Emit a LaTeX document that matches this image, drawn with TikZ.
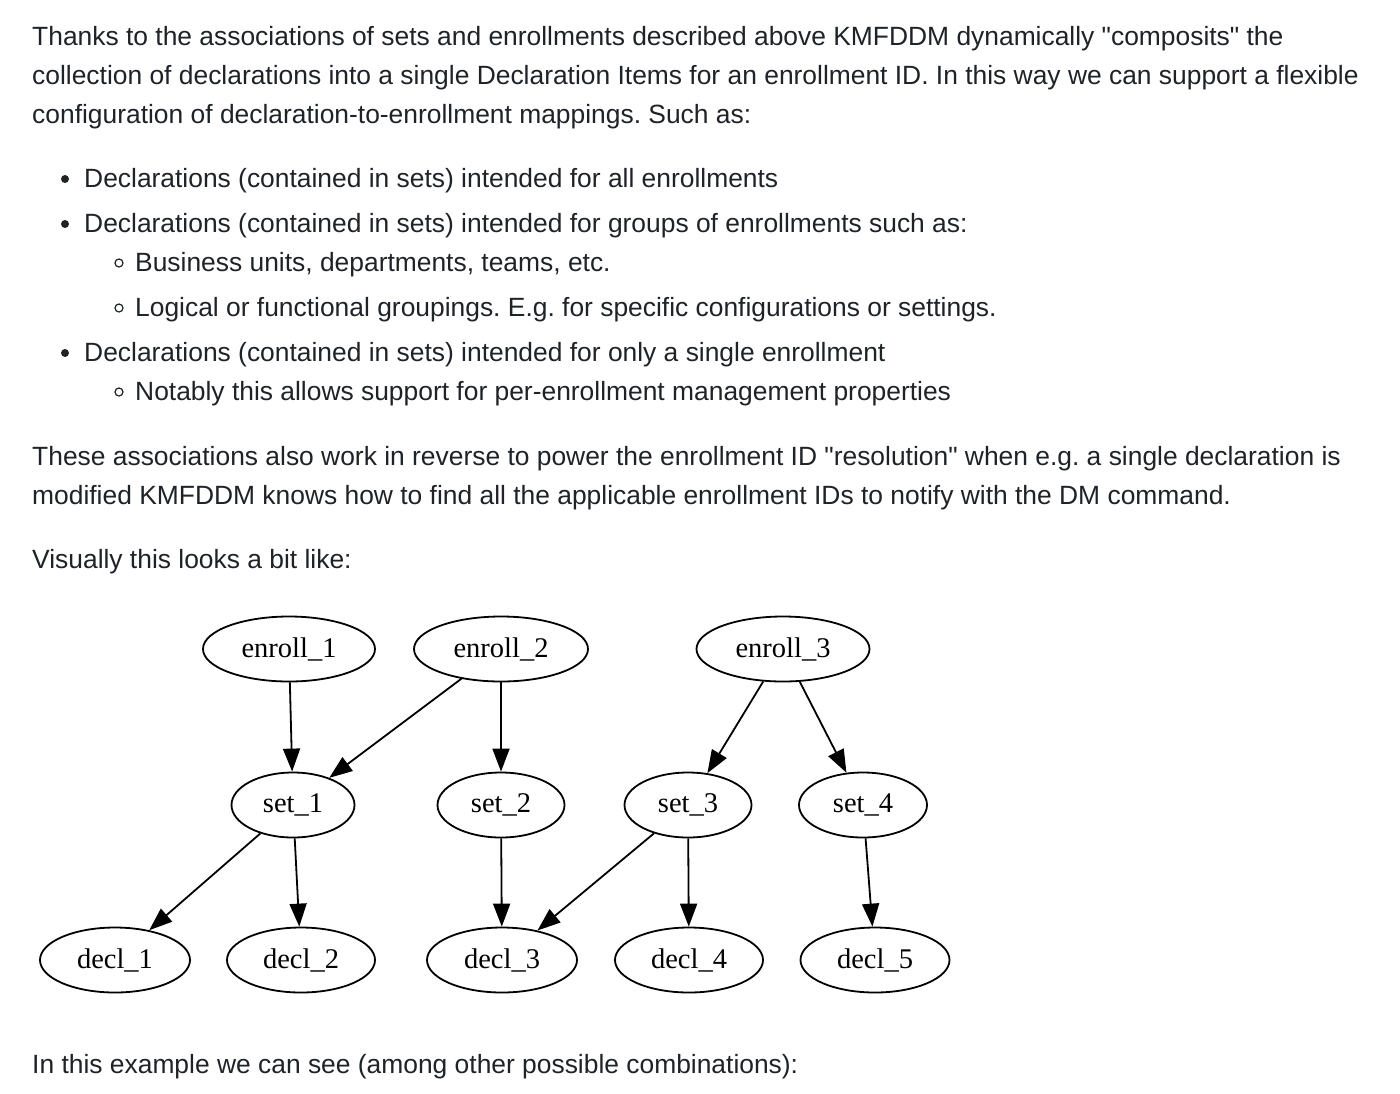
\documentclass[tikz,border=0pt]{standalone}
\usepackage{fontspec}
\setmainfont{Liberation Sans}[Ligatures=TeXOff]
\newfontfamily\gvfont{Liberation Serif}
\usetikzlibrary{shapes.geometric,arrows.meta}
\definecolor{txt}{HTML}{1F2328}
\frenchspacing
\begin{document}
\begin{tikzpicture}[x=1pt,y=-1pt,
 para/.style={anchor=base west, inner sep=0pt, text=txt, font=\fontsize{26.4}{30}\selectfont\frenchspacing},
 gv/.style={ellipse, draw=black, line width=1.8pt, inner sep=0pt, minimum height=65pt, font=\gvfont\fontsize{28.5}{30}\selectfont},
 gvedge/.style={line width=1.8pt, -{Triangle[length=23pt,width=17pt]}},
 dot/.style={circle, fill=txt, inner sep=0pt, minimum size=8pt},
 ring/.style={circle, draw=txt, line width=1.2pt, inner sep=0pt, minimum size=8pt}]
\fill[white] (0,0) rectangle (1400,1093);
\useasboundingbox (0,0) rectangle (1400,1093);

% paragraph text
\node[para] (t1) at (32,45) {Thanks to the associations of sets and enrollments described above KMFDDM dynamically "composits" the};
\node[para] (t2) at (32,84) {collection of declarations into a single Declaration Items for an enrollment ID. In this way we can support a flexible};
\node[para] (t3) at (32,123) {configuration of declaration-to-enrollment mappings. Such as:};

\node[dot] (b1) at (65,179) {};
\node[para] (l1) at (84,187) {Declarations (contained in sets) intended for all enrollments};
\node[dot] (b2) at (65,224) {};
\node[para] (l2) at (84,232) {Declarations (contained in sets) intended for groups of enrollments such as:};
\node[ring] (r1) at (119,263) {};
\node[para] (l3) at (135,271) {Business units, departments, teams, etc.};
\node[ring] (r2) at (119,308) {};
\node[para] (l4) at (135,316) {Logical or functional groupings. E.g. for specific configurations or settings.};
\node[dot] (b3) at (65,353) {};
\node[para] (l5) at (84,361) {Declarations (contained in sets) intended for only a single enrollment};
\node[ring] (r3) at (119,392) {};
\node[para] (l6) at (135,400) {Notably this allows support for per-enrollment management properties};

\node[para] (p1) at (32,465) {These associations also work in reverse to power the enrollment ID "resolution" when e.g. a single declaration is};
\node[para] (p2) at (32,504) {modified KMFDDM knows how to find all the applicable enrollment IDs to notify with the DM command.};
\node[para] (p3) at (32,568) {Visually this looks a bit like:};
\node[para] (p4) at (32,1073) {In this example we can see (among other possible combinations):};

% graph nodes
\node[gv, minimum width=172pt] (e1) at (289,649) {enroll\_1};
\node[gv, minimum width=174pt] (e2) at (501,649) {enroll\_2};
\node[gv, minimum width=173pt] (e3) at (783,649) {enroll\_3};
\node[gv, minimum width=123pt] (s1) at (293,805) {set\_1};
\node[gv, minimum width=127pt] (s2) at (501,805) {set\_2};
\node[gv, minimum width=127pt] (s3) at (688,805) {set\_3};
\node[gv, minimum width=128pt] (s4) at (863,805) {set\_4};
\node[gv, minimum width=150pt] (d1) at (115,960) {decl\_1};
\node[gv, minimum width=148pt] (d2) at (301,960) {decl\_2};
\node[gv, minimum width=150pt] (d3) at (502,960) {decl\_3};
\node[gv, minimum width=148pt] (d4) at (689,960) {decl\_4};
\node[gv, minimum width=149pt] (d5) at (875,960) {decl\_5};

% edges
\draw[gvedge] (e1) -- (s1);
\draw[gvedge] (e2) -- (s1);
\draw[gvedge] (e2) -- (s2);
\draw[gvedge] (e3) -- (s3);
\draw[gvedge] (e3) -- (s4);
\draw[gvedge] (s1) -- (d1);
\draw[gvedge] (s1) -- (d2);
\draw[gvedge] (s2) -- (d3);
\draw[gvedge] (s3) -- (d3);
\draw[gvedge] (s3) -- (d4);
\draw[gvedge] (s4) -- (d5);
\end{tikzpicture}
\end{document}
